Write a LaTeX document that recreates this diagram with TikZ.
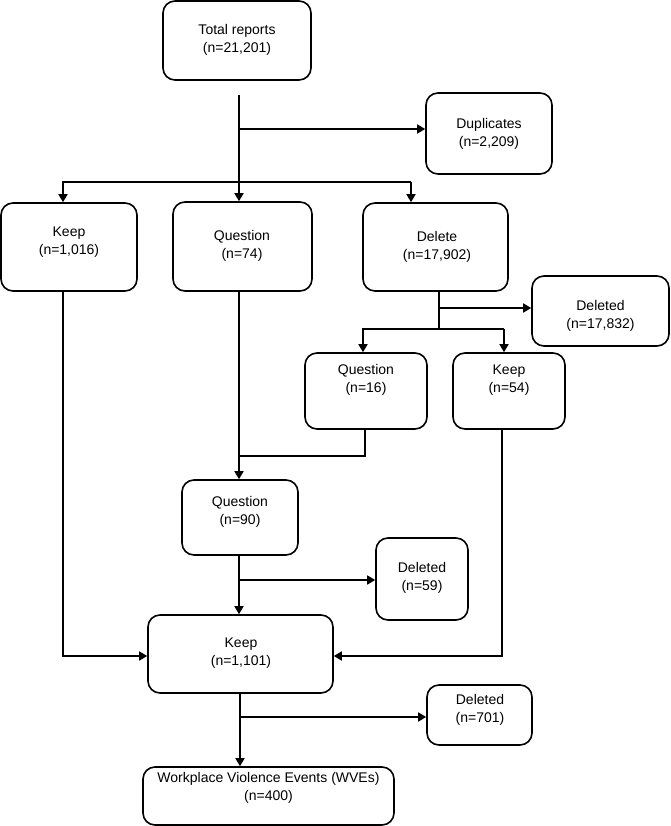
\documentclass[tikz,border=0pt]{standalone}
\usepackage{fontspec}
\setmainfont{Liberation Sans}
\usetikzlibrary{arrows.meta}
\begin{document}
\begin{tikzpicture}[x=1pt,y=-1pt,
  box/.style={draw, line width=1.6pt, rounded corners=12pt, inner sep=0pt},
  txt/.style={align=center, font=\fontsize{14}{18}\selectfont, inner sep=0pt},
  conn/.style={line width=1.6pt},
  arr/.style={conn, -{Triangle[length=8pt,width=9pt]}}]
\useasboundingbox (0,0) rectangle (670,826);
% boxes
\node[box, minimum width=148pt, minimum height=79pt] (tot) at (237,40.5) {};
\node[txt] (tott) at (237,40) {Total reports\\(n=21,201)};
\node[box, minimum width=126pt, minimum height=81pt] (dup) at (489,133.5) {};
\node[txt] (dupt) at (489,133.5) {Duplicates\\(n=2,209)};
\node[box, minimum width=136pt, minimum height=88pt] (k1) at (69,247) {};
\node[txt] (k1t) at (69,242) {Keep\\(n=1,016)};
\node[box, minimum width=139pt, minimum height=89pt] (q1) at (242.5,246.5) {};
\node[txt] (q1t) at (242,246) {Question\\(n=74)};
\node[box, minimum width=145pt, minimum height=88pt] (d1) at (435.5,247) {};
\node[txt] (d1t) at (437,247) {Delete\\(n=17,902)};
\node[box, minimum width=137pt, minimum height=70pt] (dd1) at (600.5,311) {};
\node[txt] (dd1t) at (600.5,316) {Deleted\\(n=17,832)};
\node[box, minimum width=122pt, minimum height=76pt] (q2) at (366,391) {};
\node[txt] (q2t) at (366,380) {Question\\(n=16)};
\node[box, minimum width=112pt, minimum height=76pt] (k2) at (509,391) {};
\node[txt] (k2t) at (509,380) {Keep\\(n=54)};
\node[box, minimum width=116pt, minimum height=75pt] (q3) at (240,517.5) {};
\node[txt] (q3t) at (240,512) {Question\\(n=90)};
\node[box, minimum width=92pt, minimum height=82pt] (dd2) at (422,579) {};
\node[txt] (dd2t) at (422,578) {Deleted\\(n=59)};
\node[box, minimum width=185pt, minimum height=78pt] (k3) at (240.5,654) {};
\node[txt] (k3t) at (241,653) {Keep\\(n=1,101)};
\node[box, minimum width=105pt, minimum height=60pt] (dd3) at (479.5,715) {};
\node[txt] (dd3t) at (480,710) {Deleted\\(n=701)};
\node[box, minimum width=251pt, minimum height=58pt] (wve) at (268.5,796) {};
\node[txt] (wvet) at (268.5,788) {Workplace Violence Events (WVEs)\\(n=400)};
% junction coordinates
\coordinate (c0) at (239,95);
\coordinate (c1) at (239,129);
\coordinate (c2l) at (63,182);
\coordinate (c2r) at (411,182);
\coordinate (c3a) at (439,308);
\coordinate (c3) at (439,329);
\coordinate (c3l) at (363,329);
\coordinate (c3r) at (504,329);
\coordinate (c4) at (365,456);
\coordinate (c4l) at (239,456);
\coordinate (c6) at (502,656);
\coordinate (c7) at (63,656);
\coordinate (c8) at (239,580);
\coordinate (c9) at (240,717);
% connectors
\draw[arr] (c0) -- (c0 |- q1.north);
\draw[arr] (c1) -- (dup.west |- c1);
\draw[arr] (c2r) -- (c2l) -- (c2l |- k1.north);
\draw[arr] (c2r) -- (c2r |- d1.north);
\draw[conn] (d1.south -| c3) -- (c3);
\draw[arr] (c3a) -- (dd1.west |- c3a);
\draw[arr] (c3r) -- (c3l) -- (c3l |- q2.north);
\draw[arr] (c3r) -- (c3r |- k2.north);
\draw[conn] (q2.south -| c4) -- (c4) -- (c4l);
\draw[arr] (q1.south -| c4l) -- (c4l |- q3.north);
\draw[arr] (k2.south -| c6) -- (c6) -- (k3.east |- c6);
\draw[arr] (k1.south -| c7) -- (c7) -- (k3.west |- c7);
\draw[arr] (q3.south -| c8) -- (c8 |- k3.north);
\draw[arr] (c8) -- (dd2.west |- c8);
\draw[arr] (k3.south -| c9) -- (c9 |- wve.north);
\draw[arr] (c9) -- (dd3.west |- c9);
\end{tikzpicture}
\end{document}
